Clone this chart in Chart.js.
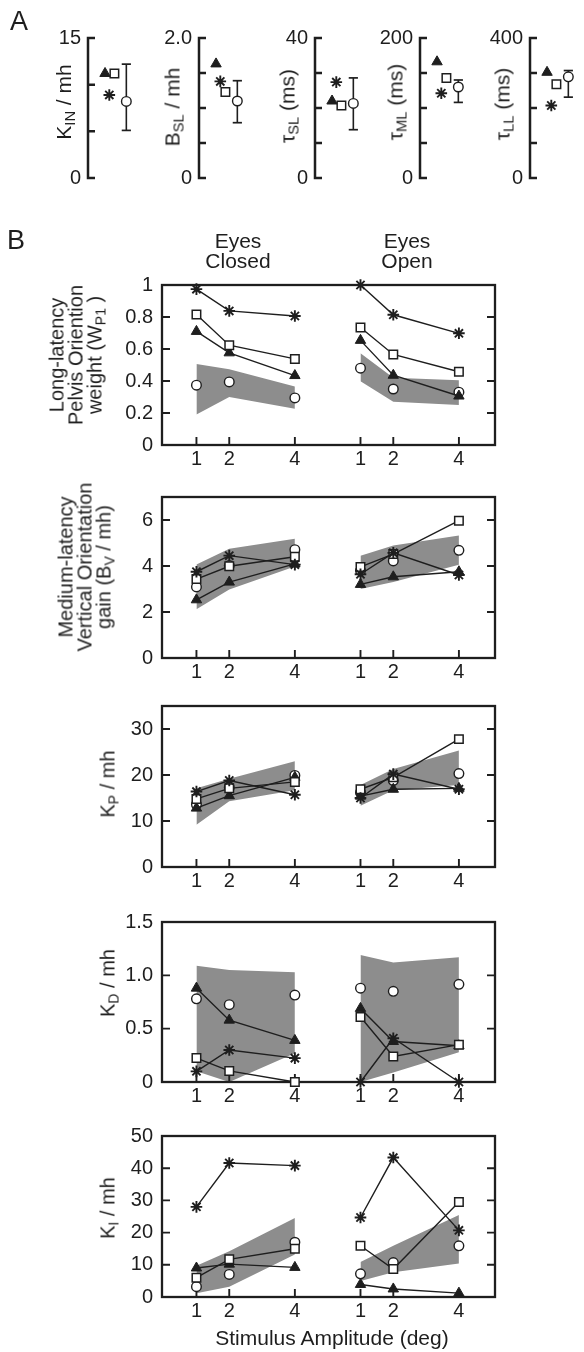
<!DOCTYPE html>
<html>
<head>
<meta charset="utf-8">
<script src="https://cdn.jsdelivr.net/npm/chart.js@4.4.1/dist/chart.umd.min.js"></script>
<style>
  html, body { margin: 0; padding: 0; background: #fff; }
  body { position: relative; width: 584px; height: 1352px; overflow: hidden;
         font-family: 'Liberation Sans', Arial, sans-serif; color: #1e1e1e; }
  canvas { position: absolute; }
  .txt { position: absolute; white-space: nowrap; line-height: 1; }
  .vlabel { position: absolute; white-space: nowrap; text-align: center;
            transform: translate(-50%, -50%) rotate(-90deg); }
  .hlabel { position: absolute; white-space: nowrap; text-align: center;
            transform: translate(-50%, -50%); }
  sub { font-size: 0.7em; vertical-align: -0.28em; line-height: 0; }
</style>
</head>
<body>
<script>
// ── DATA: PANEL A (one value per parameter) ──
const A_TITLES     = ['K<sub>IN</sub> / mh', 'B<sub>SL</sub> / mh', 'τ<sub>SL</sub> (ms)', 'τ<sub>ML</sub> (ms)', 'τ<sub>LL</sub> (ms)'];
const A_MAX        = [15, 2, 40, 200, 400];
const A_STEP       = [5, 0.5, 10, 50, 100];
const A_TOP_LABELS = ['15', '2.0', '40', '200', '400'];
const A_TRI        = [11.2, 1.63, 22.0, 166, 302];
const A_STAR       = [8.9, 1.38, 27.4, 121, 207];
const A_SQUARE     = [11.2, 1.23, 20.7, 143, 268];
const A_CIRCLE     = [8.2, 1.10, 21.3, 130, 289];
const A_ERR_LO     = [5.1, 0.79, 13.8, 108, 231];
const A_ERR_HI     = [12.2, 1.39, 28.6, 140, 307];

// ── DATA: PANEL B (eyes closed 1,2,4 deg then eyes open 1,2,4 deg) ──
const AMPLITUDES = [1, 2, 4];
const B_TITLES = [
  'Long-latency<br>Pelvis Oriention<br>weight (W<sub>P1</sub> )',
  'Medium-latency<br>Vertical Orientation<br>gain (B<sub>V</sub> / mh)',
  'K<sub>P</sub> / mh',
  'K<sub>D</sub> / mh',
  'K<sub>I</sub> / mh'
];
const B_YMAX  = [1, 7, 35, 1.5, 50];
const B_TICKS = [[0, 0.2, 0.4, 0.6, 0.8, 1], [0, 2, 4, 6], [0, 10, 20, 30], [0, 0.5, 1, 1.5], [0, 10, 20, 30, 40, 50]];
const B_TICK_LABELS = [['0', '0.2', '0.4', '0.6', '0.8', '1'], ['0', '2', '4', '6'], ['0', '10', '20', '30'], ['0', '0.5', '1.0', '1.5'], ['0', '10', '20', '30', '40', '50']];

const WP1_STAR   = [0.974, 0.838, 0.806, 1.0, 0.814, 0.698];
const WP1_SQUARE = [0.816, 0.624, 0.538, 0.734, 0.566, 0.458];
const WP1_TRI    = [0.71, 0.576, 0.434, 0.654, 0.436, 0.306];
const WP1_CIRCLE = [0.374, 0.394, 0.294, 0.48, 0.35, 0.33];
const WP1_LO     = [0.19, 0.30, 0.226, 0.398, 0.27, 0.25];
const WP1_HI     = [0.506, 0.474, 0.366, 0.574, 0.42, 0.404];

const BV_STAR   = [3.75, 4.45, 4.06, 3.64, 4.57, 3.61];
const BV_SQUARE = [3.43, 3.99, 4.40, 3.96, 4.52, 5.97];
const BV_TRI    = [2.53, 3.30, 4.09, 3.20, 3.53, 3.75];
const BV_CIRCLE = [3.09, 4.02, 4.71, 3.80, 4.22, 4.68];
const BV_LO     = [2.12, 2.98, 3.98, 3.0, 3.3, 4.05];
const BV_HI     = [4.06, 4.75, 5.19, 4.45, 4.89, 5.33];

const KP_STAR   = [16.4, 18.8, 15.7, 15.0, 20.2, 16.9];
const KP_SQUARE = [14.8, 17.1, 18.5, 16.9, 19.5, 27.8];
const KP_TRI    = [12.8, 15.5, 19.5, 15.4, 16.9, 17.1];
const KP_CIRCLE = [13.6, 17.3, 19.9, 16.2, 18.8, 20.3];
const KP_LO     = [9.2, 14.3, 16.7, 13.3, 16.7, 17.8];
const KP_HI     = [17.1, 19.2, 23.0, 17.8, 21.3, 25.3];

const KD_STAR   = [0.10, 0.30, 0.224, 0.0, 0.41, 0.0];
const KD_SQUARE = [0.224, 0.104, 0.0, 0.61, 0.24, 0.35];
const KD_TRI    = [0.88, 0.58, 0.39, 0.69, 0.38, 0.34];
const KD_CIRCLE = [0.78, 0.725, 0.815, 0.88, 0.85, 0.916];
const KD_LO     = [0.10, 0.0, 0.27, 0.0, 0.09, 0.28];
const KD_HI     = [1.09, 1.05, 1.03, 1.19, 1.12, 1.17];

const KI_STAR   = [28.0, 41.6, 40.8, 24.7, 43.3, 20.7];
const KI_SQUARE = [6.0, 11.7, 15.0, 15.9, 8.7, 29.5];
const KI_TRI    = [9.0, 10.2, 9.2, 3.9, 2.5, 1.2];
const KI_CIRCLE = [3.2, 7.0, 17.0, 7.2, 10.7, 15.9];
const KI_LO     = [1.2, 3.2, 13.2, 5.0, 7.7, 10.4];
const KI_HI     = [9.7, 14.2, 24.5, 10.9, 15.9, 25.5];

const PANELS_B = [
  { star: WP1_STAR, square: WP1_SQUARE, tri: WP1_TRI, circle: WP1_CIRCLE, lo: WP1_LO, hi: WP1_HI },
  { star: BV_STAR,  square: BV_SQUARE,  tri: BV_TRI,  circle: BV_CIRCLE,  lo: BV_LO,  hi: BV_HI },
  { star: KP_STAR,  square: KP_SQUARE,  tri: KP_TRI,  circle: KP_CIRCLE,  lo: KP_LO,  hi: KP_HI },
  { star: KD_STAR,  square: KD_SQUARE,  tri: KD_TRI,  circle: KD_CIRCLE,  lo: KD_LO,  hi: KD_HI },
  { star: KI_STAR,  square: KI_SQUARE,  tri: KI_TRI,  circle: KI_CIRCLE,  lo: KI_LO,  hi: KI_HI }
];

// ── LAYOUT ──
const INK  = '#1e1e1e';
const BAND = '#8d8d8d';
const FONT = "'Liberation Sans', Arial, sans-serif";
const TICK_FONT = { family: FONT, size: 20 };
const TICK_LEN = 8;

const A_AXIS_X = [88, 199, 315, 420, 530];
const A_TOP = 33, A_BOTTOM = 183;
const A_SLOT = { tri: 20, star: 25, square: 31, circle: 45 };
const A_TITLE_POS = [[63, 102], [172, 107], [287, 106], [395, 102], [502, 104]];

const B_LEFT = 162, B_RIGHT = 495;
const B_TOP    = [278, 490, 699, 915, 1129];
const B_BOTTOM = [445, 658, 867, 1082, 1297];
const B_TITLE_POS = [[76, 355], [85, 567], [108, 784], [108, 983], [108, 1208]];
const OPEN_SHIFT = 5;
const X_MIN = -0.05, X_MAX = 10.1;
const PAD_T = 14, X_AXIS_H = 32;

Chart.defaults.font.family = FONT;
Chart.defaults.color = INK;

const MARK = {
  star:   { pointStyle: 'star',     pointRadius: 5.8, pointBorderWidth: 1.9, pointBackgroundColor: INK,    pointBorderColor: INK },
  square: { pointStyle: 'rect',     pointRadius: 6,   pointBorderWidth: 1.5, pointBackgroundColor: '#fff', pointBorderColor: INK },
  tri:    { pointStyle: 'triangle', pointRadius: 6,   pointBorderWidth: 1,   pointBackgroundColor: INK,    pointBorderColor: INK },
  circle: { pointStyle: 'circle',   pointRadius: 4.8, pointBorderWidth: 1.4, pointBackgroundColor: '#fff', pointBorderColor: INK }
};

function makeCanvas(left, top, w, h) {
  const c = document.createElement('canvas');
  c.width = w; c.height = h;
  c.style.left = left + 'px'; c.style.top = top + 'px';
  c.style.width = w + 'px'; c.style.height = h + 'px';
  document.body.appendChild(c);
  return c;
}

function addText(cls, html, x, y, size, lh) {
  const d = document.createElement('div');
  d.className = cls;
  d.innerHTML = html;
  d.style.left = x + 'px'; d.style.top = y + 'px';
  d.style.fontSize = size + 'px';
  d.style.lineHeight = (lh || size) + 'px';
  document.body.appendChild(d);
}

const pts = (xs, ys) => xs.map((x, i) => ({ x, y: ys[i] }));

// ── FRAME + INWARD TICKS (panel B) ──
const framePlugin = {
  id: 'frame',
  beforeDatasetsDraw(chart) {
    const { ctx, chartArea: a, scales } = chart;
    ctx.save();
    ctx.strokeStyle = INK;
    ctx.lineWidth = 1.9;
    ctx.beginPath();
    scales.y.ticks.forEach(t => {
      const y = scales.y.getPixelForValue(t.value);
      ctx.moveTo(a.left, y);  ctx.lineTo(a.left + TICK_LEN, y);
      ctx.moveTo(a.right, y); ctx.lineTo(a.right - TICK_LEN, y);
    });
    scales.x.ticks.forEach(t => {
      const x = scales.x.getPixelForValue(t.value);
      ctx.moveTo(x, a.bottom); ctx.lineTo(x, a.bottom - TICK_LEN);
    });
    ctx.stroke();
    ctx.lineWidth = 2.3;
    ctx.strokeRect(a.left, a.top, a.right - a.left, a.bottom - a.top);
    ctx.restore();
  }
};

// ── BRACKET AXIS (panel A) ──
const bracketPlugin = {
  id: 'bracket',
  beforeDatasetsDraw(chart) {
    const { ctx, chartArea: a, scales: { y } } = chart;
    ctx.save();
    ctx.strokeStyle = INK;
    ctx.lineWidth = 2.5;
    ctx.beginPath();
    ctx.moveTo(a.left, a.top - 1.2); ctx.lineTo(a.left, a.bottom + 1.2);
    y.ticks.forEach(t => {
      const py = y.getPixelForValue(t.value);
      ctx.moveTo(a.left, py); ctx.lineTo(a.left + 7, py);
    });
    ctx.stroke();
    ctx.restore();
  }
};

// ── PANEL A ──
function drawPanelA(i) {
  const W_AXIS = 50, W_AREA = 52;
  const c = makeCanvas(A_AXIS_X[i] - W_AXIS, A_TOP - PAD_T, W_AXIS + W_AREA, PAD_T * 2 + (A_BOTTOM - A_TOP));
  const max = A_MAX[i], step = A_STEP[i];
  const nTicks = Math.round(max / step) + 1;
  const single = (key, val, order) => ({ data: [{ x: A_SLOT[key], y: val }], showLine: false, order, clip: false, ...MARK[key] });

  new Chart(c, {
    type: 'line',
    data: {
      datasets: [
        single('circle', A_CIRCLE[i], 1),
        single('square', A_SQUARE[i], 2),
        single('tri', A_TRI[i], 3),
        single('star', A_STAR[i], 4),
        {
          data: [{ x: A_SLOT.circle, y: A_ERR_LO[i] }, { x: A_SLOT.circle, y: A_ERR_HI[i] }],
          borderColor: INK, borderWidth: 1.6, order: 5, clip: false,
          pointStyle: 'line', pointRadius: 4.6, pointBorderWidth: 1.7, pointBorderColor: INK
        }
      ]
    },
    options: {
      responsive: false, animation: false, events: [],
      layout: { padding: { top: PAD_T, bottom: PAD_T, left: 0, right: 0 } },
      plugins: { legend: { display: false }, tooltip: { enabled: false } },
      scales: {
        x: { type: 'linear', display: false, min: 0, max: W_AREA },
        y: {
          min: 0, max,
          grid: { display: false, drawTicks: false },
          border: { display: false },
          afterBuildTicks: s => { s.ticks = Array.from({ length: nTicks }, (_, k) => ({ value: k * step })); },
          afterFit: s => { s.width = W_AXIS; },
          ticks: {
            autoSkip: false, padding: 7, font: TICK_FONT, color: INK,
            callback: (v, idx) => idx === 0 ? '0' : (idx === nTicks - 1 ? A_TOP_LABELS[i] : '')
          }
        }
      }
    },
    plugins: [bracketPlugin]
  });
  addText('vlabel', A_TITLES[i], A_TITLE_POS[i][0], A_TITLE_POS[i][1], 21);
}

// ── PANEL B ──
const X_TICKS = [...AMPLITUDES, ...AMPLITUDES.map(a => a + OPEN_SHIFT)];
const X_TICK_LABELS = [...AMPLITUDES, ...AMPLITUDES].map(String);

function drawPanelB(i) {
  const p = PANELS_B[i];
  const h = B_BOTTOM[i] - B_TOP[i];
  const c = makeCanvas(0, B_TOP[i] - PAD_T, 584, PAD_T + h + X_AXIS_H);
  const datasets = [];

  [0, 1].forEach(g => {
    const xs = AMPLITUDES.map(a => a + g * OPEN_SHIFT);
    const part = arr => arr.slice(g * 3, g * 3 + 3);
    datasets.push({ data: pts(xs, part(p.lo)), borderColor: 'transparent', borderWidth: 0, pointRadius: 0, fill: false, order: 10 });
    datasets.push({ data: pts(xs, part(p.hi)), borderColor: 'transparent', borderWidth: 0, pointRadius: 0, fill: '-1', backgroundColor: BAND, order: 10 });
    datasets.push({ data: pts(xs, part(p.circle)), showLine: false, order: 5, clip: false, ...MARK.circle });
    datasets.push({ data: pts(xs, part(p.tri)),    borderColor: INK, borderWidth: 1.4, order: 3, clip: false, ...MARK.tri });
    datasets.push({ data: pts(xs, part(p.square)), borderColor: INK, borderWidth: 1.4, order: 2, clip: false, ...MARK.square });
    datasets.push({ data: pts(xs, part(p.star)),   borderColor: INK, borderWidth: 1.4, order: 1, clip: false, ...MARK.star });
  });

  new Chart(c, {
    type: 'line',
    data: { datasets },
    options: {
      responsive: false, animation: false, events: [],
      layout: { padding: { top: PAD_T, right: 584 - B_RIGHT, left: 0, bottom: 0 } },
      elements: { line: { tension: 0 } },
      plugins: {
        legend: { display: false }, tooltip: { enabled: false },
        filler: { drawTime: 'beforeDatasetsDraw' }
      },
      scales: {
        x: {
          type: 'linear', min: X_MIN, max: X_MAX,
          grid: { display: false, drawTicks: false },
          border: { display: false },
          afterBuildTicks: s => { s.ticks = X_TICKS.map(v => ({ value: v })); },
          afterFit: s => { s.height = X_AXIS_H; },
          ticks: { autoSkip: false, maxRotation: 0, padding: 2, font: TICK_FONT, color: INK,
                   callback: (v, idx) => X_TICK_LABELS[idx] }
        },
        y: {
          min: 0, max: B_YMAX[i],
          grid: { display: false, drawTicks: false },
          border: { display: false },
          afterBuildTicks: s => { s.ticks = B_TICKS[i].map(v => ({ value: v })); },
          afterFit: s => { s.width = B_LEFT; },
          ticks: { autoSkip: false, padding: 9, font: TICK_FONT, color: INK,
                   callback: (v, idx) => B_TICK_LABELS[i][idx] }
        }
      }
    },
    plugins: [framePlugin]
  });
  addText('vlabel', B_TITLES[i], B_TITLE_POS[i][0], B_TITLE_POS[i][1], 20, 19);
}

for (let i = 0; i < 5; i++) drawPanelA(i);
for (let i = 0; i < 5; i++) drawPanelB(i);

addText('txt', 'A', 10, 8, 27);
addText('txt', 'B', 7, 227, 27);
addText('hlabel', 'Eyes<br>Closed', 238, 251, 21, 20);
addText('hlabel', 'Eyes<br>Open', 407, 251, 21, 20);
addText('hlabel', 'Stimulus Amplitude (deg)', 332, 1337, 21);
</script>
</body>
</html>
